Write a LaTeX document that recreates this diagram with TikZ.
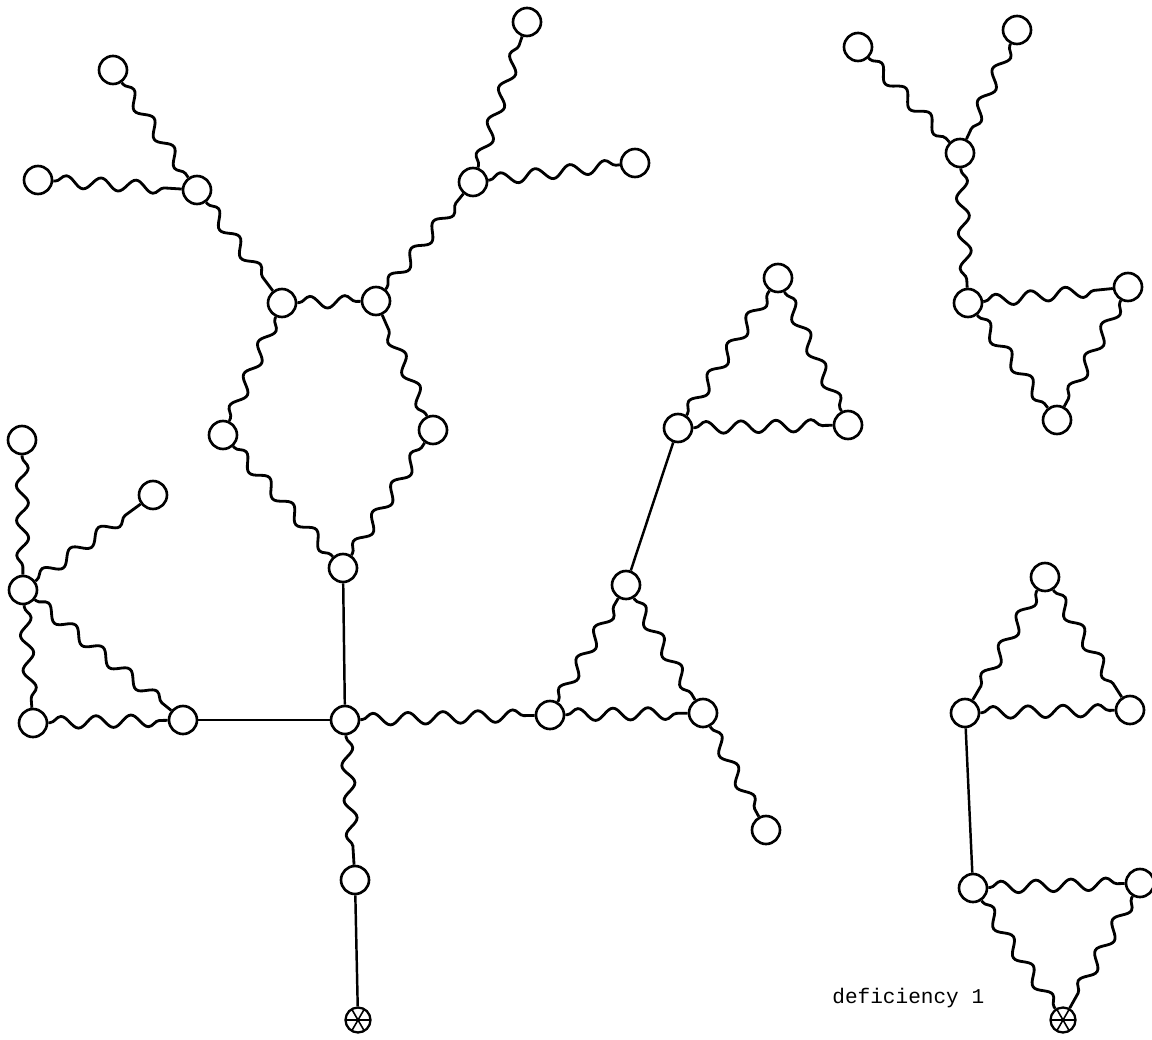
\documentclass[tikz,border=0pt]{standalone}
\usepackage{fontspec}
\setmonofont{Liberation Mono}
\usetikzlibrary{decorations.pathmorphing}

\begin{document}
\begin{tikzpicture}[
  x=0.02cm, y=-0.02cm,
  site/.style={circle, draw, line width=1.5pt, minimum size=5.6mm, inner sep=0pt},
  root/.style={site, minimum size=5mm, line width=1.3pt,
    path picture={
      \foreach \a in {0,60,120}
        \draw[line width=0.9pt] (path picture bounding box.center)
          +(\a:3mm) -- +(\a+180:3mm);
    }},
  wavy/.style={line width=1.6pt, decorate,
    decoration={snake, amplitude=0.12cm, segment length=0.7cm,
                pre length=1pt, post length=1pt}},
  bond/.style={line width=1.4pt},
  note/.style={font=\ttfamily\fontsize{12}{15}\selectfont,
               anchor=base west, inner sep=0pt},
]
\useasboundingbox (0,0) rectangle (1152,1040);

% -------------------------------------------------------------------------
% Left cluster
% -------------------------------------------------------------------------
\node[site] (l1) at (22,440) {};
\node[site] (l2) at (153,495) {};
\node[site] (l3) at (23,590) {};
\node[site] (l4) at (33,723) {};
\node[site] (l5) at (183,720) {};

% -------------------------------------------------------------------------
% Central ring with its two fans
% -------------------------------------------------------------------------
\node[site] (c) at (345,720) {};
\node[site] (p) at (343,568) {};
\node[site] (pl) at (223,435) {};
\node[site] (pr) at (433,430) {};
\node[site] (ptl) at (282,303) {};
\node[site] (ptr) at (376,301) {};
\node[site] (h1) at (197,190) {};
\node[site] (h1a) at (113,70) {};
\node[site] (h1b) at (38,180) {};
\node[site] (h2) at (473,182) {};
\node[site] (h2a) at (527,22) {};
\node[site] (h2b) at (635,163) {};
\node[site] (d1) at (355,880) {};
\node[root] (s1) at (358,1020) {};

% two triangles joined by a plain bond
\node[site] (t1) at (550,715) {};
\node[site] (t2) at (703,713) {};
\node[site] (t3) at (626,585) {};
\node[site] (t4) at (766,830) {};
\node[site] (u1) at (678,428) {};
\node[site] (u2) at (848,425) {};
\node[site] (u3) at (778,278) {};

% -------------------------------------------------------------------------
% Right column
% -------------------------------------------------------------------------
\node[site] (r1) at (858,47) {};
\node[site] (r2) at (1017,30) {};
\node[site] (r3) at (960,153) {};
\node[site] (r4) at (968,303) {};
\node[site] (r5) at (1128,287) {};
\node[site] (r6) at (1057,420) {};

\node[site] (b1) at (1045,577) {};
\node[site] (b2) at (965,713) {};
\node[site] (b3) at (1130,710) {};
\node[site] (b4) at (973,888) {};
\node[site] (b5) at (1140,883) {};
\node[root] (s2) at (1063,1020) {};

\node[note] (lbl) at (832,1003) {deficiency 1};

% plain bonds
\draw[bond] (l5) -- (c);
\draw[bond] (p) -- (c);
\draw[bond] (d1) -- (s1);
\draw[bond] (t3) -- (u1);
\draw[bond] (b2) -- (b4);

% wavy bonds
\foreach \a/\b in {l1/l3, l3/l2, l3/l4, l3/l5, l4/l5,
                   ptl/ptr, ptl/pl, pl/p, p/pr, pr/ptr,
                   h1/ptl, h1a/h1, h1b/h1, ptr/h2, h2/h2a, h2/h2b,
                   c/t1, t1/t2, t1/t3, t3/t2, t2/t4, c/d1,
                   u1/u2, u1/u3, u3/u2,
                   r1/r3, r2/r3, r3/r4, r4/r5, r4/r6, r5/r6,
                   b1/b2, b1/b3, b2/b3, b4/b5, b4/s2, b5/s2}
  \draw[wavy] (\a) -- (\b);

\end{tikzpicture}
\end{document}
